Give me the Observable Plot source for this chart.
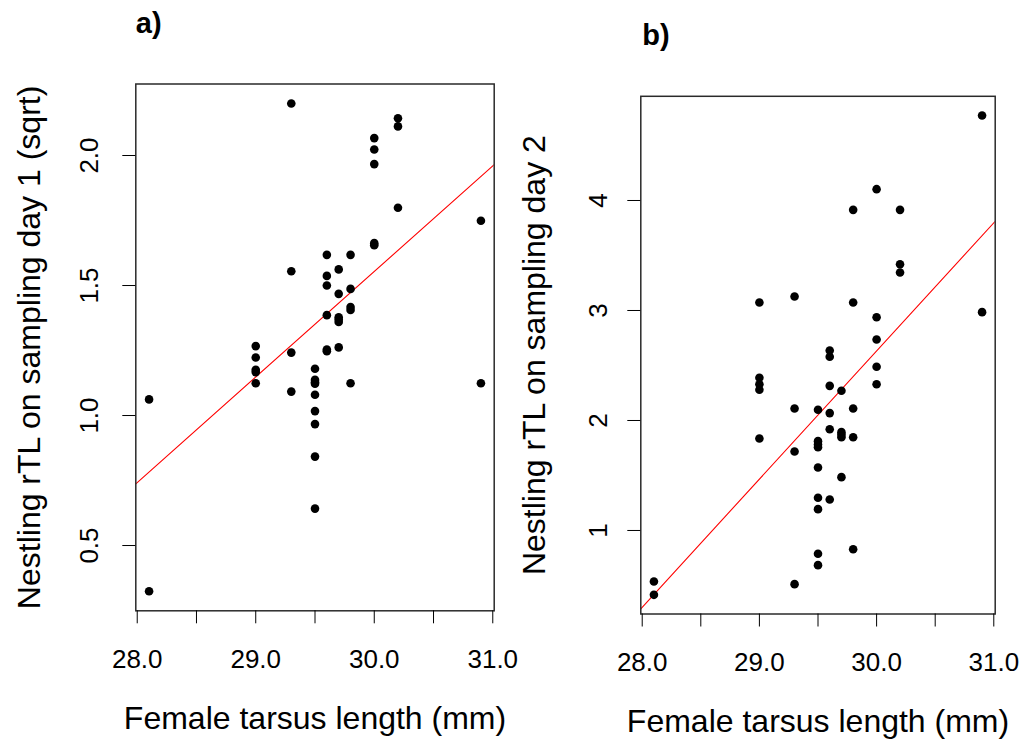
<!DOCTYPE html>
<html>
<head>
<meta charset="utf-8">
<script src="https://cdn.jsdelivr.net/npm/d3@7"></script>
<script src="https://cdn.jsdelivr.net/npm/@observablehq/plot@0.6"></script>
<style>
html, body { margin: 0; padding: 0; background: #fff; }
#fig { position: relative; width: 1021px; height: 740px; background: #fff; }
#fig svg { position: absolute; top: 0; }
</style>
</head>
<body>
<div id="fig"></div>
<script>
// ---- Data ----
const xTicks = [28.0, 28.5, 29.0, 29.5, 30.0, 30.5, 31.0];
const xTickLabels = [28.0, 29.0, 30.0, 31.0];
const yTicksA = [0.5, 1.0, 1.5, 2.0];
const yTicksB = [1, 2, 3, 4];

// Panel a): female tarsus length vs nestling rTL on sampling day 1 (sqrt)
const tarsusA = [28.1, 28.1, 29.0, 29.0, 29.0, 29.0, 29.0, 29.3, 29.3, 29.3, 29.3,
  29.5, 29.5, 29.5, 29.5, 29.5, 29.5, 29.5, 29.5, 29.5, 29.6, 29.6, 29.6, 29.6, 29.6, 29.6,
  29.7, 29.7, 29.7, 29.7, 29.7, 29.7, 29.8, 29.8, 29.8, 29.8, 29.8,
  30.0, 30.0, 30.0, 30.0, 30.0, 30.2, 30.2, 30.2, 30.9, 30.9];
const rtlDay1 = [1.062, 0.324, 1.267, 1.223, 1.176, 1.167, 1.124, 2.200, 1.555, 1.242, 1.092,
  1.180, 1.137, 1.128, 1.122, 1.080, 1.017, 0.967, 0.842, 0.642, 1.618, 1.537, 1.500, 1.386, 1.254, 1.247,
  1.562, 1.468, 1.378, 1.369, 1.360, 1.262, 1.618, 1.487, 1.417, 1.406, 1.124,
  2.067, 2.023, 1.967, 1.663, 1.655, 2.143, 2.112, 1.799, 1.749, 1.124];

// Panel b): female tarsus length vs nestling rTL on sampling day 2
const tarsusB = [28.1, 28.1, 29.0, 29.0, 29.0, 29.0, 29.0, 29.3, 29.3, 29.3, 29.3,
  29.5, 29.5, 29.5, 29.5, 29.5, 29.5, 29.5, 29.5, 29.5, 29.6, 29.6, 29.6, 29.6, 29.6, 29.6,
  29.7, 29.7, 29.7, 29.7, 29.7, 29.8, 29.8, 29.8, 29.8, 29.8,
  30.0, 30.0, 30.0, 30.0, 30.0, 30.2, 30.2, 30.2, 30.9, 30.9];
const rtlDay2 = [0.536, 0.415, 3.073, 2.388, 2.330, 2.280, 1.836, 3.127, 2.109, 1.718, 0.512,
  2.097, 1.812, 1.782, 1.757, 1.573, 1.297, 1.194, 0.788, 0.685, 2.636, 2.580, 2.315, 2.067, 1.921, 1.282,
  2.270, 1.894, 1.870, 1.848, 1.485, 3.915, 3.073, 2.109, 1.848, 0.830,
  4.103, 2.939, 2.736, 2.488, 2.330, 3.915, 3.421, 3.345, 4.773, 2.985];

// Fitted regression lines
const fitA = {intercept: -10.626, slope: 0.406};
const fitB = {intercept: -32.318, slope: 1.165};

const xTitle = "Female tarsus length (mm)";
const yTitleA = "Nestling rTL on sampling day 1 (sqrt)";
const yTitleB = "Nestling rTL on sampling day 2";

// R-style axis domain: data range extended by 4% on each side
function rDomain(v) {
  const [lo, hi] = d3.extent(v);
  const p = 0.04 * (hi - lo);
  return [lo - p, hi + p];
}

const FONT = '"Liberation Sans", Arial, Helvetica, sans-serif';
const TICK_FS = 26;

function panel(o) {
  const xDom = rDomain(o.xs), yDom = rDomain(o.ys);
  const data = o.xs.map((x, i) => ({x, y: o.ys[i]}));
  const lineData = xDom.map(x => ({x, y: o.fit.intercept + o.fit.slope * x}));
  const svg = Plot.plot({
    width: o.width, height: 740,
    marginTop: o.mTop, marginBottom: o.mBottom, marginLeft: o.mLeft, marginRight: o.mRight,
    style: {fontFamily: FONT, fontSize: TICK_FS + "px", background: "none", color: "#000", overflow: "visible"},
    x: {domain: xDom},
    y: {domain: yDom},
    marks: [
      Plot.line(lineData, {x: "x", y: "y", stroke: "#ff0000", strokeWidth: 1.1, clip: true}),
      Plot.dot(data, {x: "x", y: "y", r: 4.3, fill: "#000", stroke: "none"}),
      Plot.frame({stroke: "#2a2a2a", strokeWidth: 1.5}),
      Plot.axisX({ticks: xTicks, tickSize: 13, tickPadding: 26, label: null, fontSize: TICK_FS,
        tickFormat: d => xTickLabels.includes(d) ? d.toFixed(1) : ""}),
      Plot.axisY({ticks: o.yTicks, tickSize: 13, label: null, tickFormat: () => ""}),
      Plot.text(o.yTicks, {y: d => d, text: o.yFmt, frameAnchor: "left", dx: o.yLabelDx,
        rotate: -90, textAnchor: "middle", lineAnchor: "bottom", fontSize: TICK_FS}),
      Plot.text([o.yTitle], {text: d => d, frameAnchor: "left", dx: -96, rotate: -90,
        textAnchor: "middle", lineAnchor: "bottom", fontSize: 32}),
      Plot.text([xTitle], {text: d => d, frameAnchor: "bottom", dy: 118,
        textAnchor: "middle", lineAnchor: "bottom", fontSize: 32}),
      Plot.text([o.tag], {text: d => d, frameAnchor: "top-left", dx: o.tagDx, dy: -51,
        textAnchor: "start", lineAnchor: "bottom", fontSize: 29, fontWeight: "bold"})
    ]
  });
  svg.style.left = o.left + "px";
  return svg;
}

const fig = document.getElementById("fig");
fig.appendChild(panel({
  xs: tarsusA, ys: rtlDay1, yTicks: yTicksA, yFmt: d => d.toFixed(1), fit: fitA,
  yTitle: yTitleA, tag: "a)", left: 0, width: 510,
  mTop: 83.5, mBottom: 129.7, mLeft: 135.3, mRight: 16.3, yLabelDx: -38, tagDx: 0
}));
fig.appendChild(panel({
  xs: tarsusB, ys: rtlDay2, yTicks: yTicksB, yFmt: d => String(d), fit: fitB,
  yTitle: yTitleB, tag: "b)", left: 510, width: 511,
  mTop: 95.8, mBottom: 126.5, mLeft: 130.3, mRight: 26.3, yLabelDx: -34, tagDx: 1.5
}));
</script>
</body>
</html>
